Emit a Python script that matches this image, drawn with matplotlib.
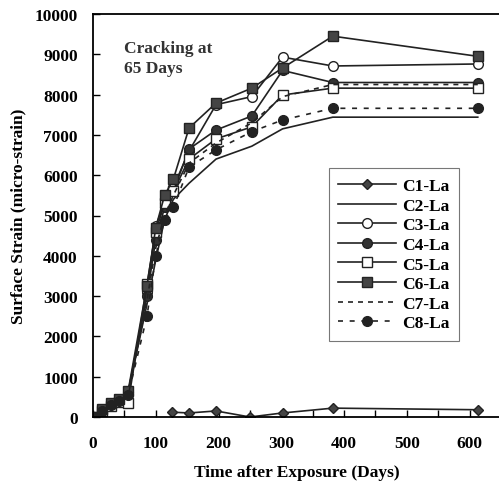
import matplotlib.pyplot as plt
from matplotlib.ticker import MultipleLocator

# Measurement times (days after exposure)
t = [0, 14, 28, 42, 56, 86, 100, 114, 128, 153, 196, 253, 302, 382, 613]
t_c1 = [126, 153, 196, 250, 302, 382, 613]

# Surface strain (micro-strain)
c1 = [120, 100, 150, 0, 100, 220, 180]
c2 = [0, 150, 300, 420, 600, 2800, 3900, 4900, 5400, 5800, 6400, 6720, 7150, 7440, 7440]
c3 = [0, 180, 320, 430, 580, 3100, 4750, 5300, 5700, 6600, 7750, 7950, 8930, 8710, 8760]
c4 = [0, 170, 330, 420, 620, 3000, 4400, 5200, 5600, 6650, 7120, 7470, 8600, 8300, 8300]
c5 = [0, 150, 280, 380, 350, 3300, 4600, 5300, 5600, 6400, 6900, 7200, 7990, 8160, 8160]
c6 = [0, 200, 350, 450, 650, 3250, 4700, 5500, 5900, 7170, 7790, 8160, 8660, 9450, 8950]
c7 = [0, 160, 300, 400, 550, 2900, 4200, 5000, 5500, 6300, 6800, 7300, 7950, 8250, 8250]
c8 = [0, 150, 300, 400, 550, 2500, 4000, 4900, 5200, 6200, 6630, 7080, 7370, 7660, 7660]

plt.rcParams['font.family'] = 'Liberation Serif'
plt.rcParams['font.weight'] = 'bold'

fig = plt.figure(figsize=(4.99, 4.89), dpi=100)
ax = fig.add_axes([93/499, 71/489, 408/499, 403/489])

k = '#222222'
ax.plot(t_c1, c1, color=k, lw=1.2, marker='D', ms=5.5, mfc='#444444', mec=k, label='C1-La')
ax.plot(t, c2, color=k, lw=1.2, label='C2-La')
ax.plot(t, c3, color=k, lw=1.2, marker='o', ms=7, mfc='white', mec=k, label='C3-La')
ax.plot(t, c4, color=k, lw=1.2, marker='o', ms=7, mfc='#333333', mec=k, label='C4-La')
ax.plot(t, c5, color=k, lw=1.2, marker='s', ms=6.5, mfc='white', mec=k, label='C5-La')
ax.plot(t, c6, color=k, lw=1.2, marker='s', ms=6.5, mfc='#444444', mec=k, label='C6-La')
ax.plot(t, c7, color=k, lw=1.2, ls=(0, (3, 3)), label='C7-La')
ax.plot(t, c8, color=k, lw=1.2, ls=(0, (3, 4)), marker='o', ms=7, mfc='#222222', mec=k, label='C8-La')

ax.set_xlim(0, 650)
ax.set_ylim(0, 10000)
ax.xaxis.set_major_locator(MultipleLocator(100))
ax.xaxis.set_minor_locator(MultipleLocator(50))
ax.yaxis.set_major_locator(MultipleLocator(1000))
ax.tick_params(which='both', direction='in', labelsize=12.5, width=1)
ax.tick_params(which='both', length=5)
ax.tick_params(axis='x', which='major', pad=13)
ax.tick_params(axis='y', which='major', pad=11)
ax.spines['right'].set_visible(False)
for s in ('left', 'bottom', 'top'):
    ax.spines[s].set_linewidth(1.3)

ax.set_xlabel('Time after Exposure (Days)', fontsize=12.5, fontweight='bold', labelpad=9)
ax.set_ylabel('Surface Strain (micro-strain)', fontsize=12.5, fontweight='bold', labelpad=6)
ax.text(50, 8550, 'Cracking at\n65 Days', fontsize=12.5, fontweight='bold', color='#333333',
        linespacing=1.4)

leg = ax.legend(loc='upper left', bbox_to_anchor=(0.578, 0.617), fontsize=12.5, frameon=True,
                fancybox=False, edgecolor='#555555', handlelength=3.3, labelspacing=0.2,
                borderpad=0.55, handletextpad=0.35, borderaxespad=0)
leg.get_frame().set_linewidth(0.8)

fig.savefig('out.png', dpi=100)
